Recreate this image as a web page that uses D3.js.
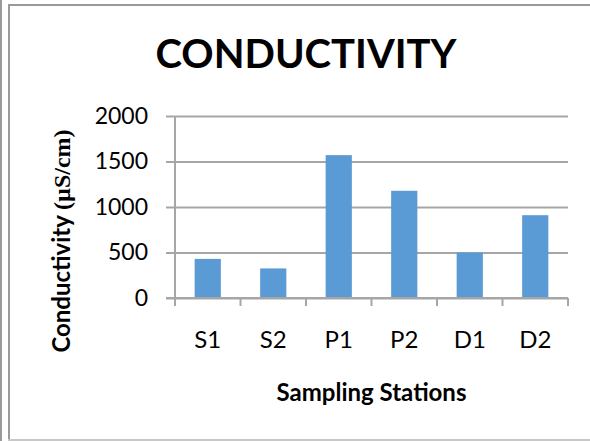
<!DOCTYPE html>
<html>
<head>
<meta charset="utf-8">
<script src="https://cdn.jsdelivr.net/npm/d3@7"></script>
<style>
  body { margin: 0; background: #fff; }
  svg { display: block; }
</style>
</head>
<body>
<svg id="chart" width="590" height="441"></svg>
<script>
// data
const stations = ['S1', 'S2', 'P1', 'P2', 'D1', 'D2']
const conductivity = [430, 325, 1570, 1178, 500, 910]
const yTicks = [0, 500, 1000, 1500, 2000]

const svg = d3.select('#chart')
const W = 590
const H = 441
const margin = { top: 116, right: 22, bottom: 143, left: 175 }
const innerW = W - margin.left - margin.right
const innerH = H - margin.top - margin.bottom
const sans = 'Lato, "Open Sans", sans-serif'

// frame lines
svg.append('rect').attr('x', 0).attr('y', 0).attr('width', 2).attr('height', H).attr('fill', '#9a9a9a')
svg.append('rect').attr('x', 8).attr('y', 4).attr('width', 2).attr('height', H - 4).attr('fill', '#9a9a9a')
svg.append('rect').attr('x', 8).attr('y', 4).attr('width', W - 8).attr('height', 2).attr('fill', '#9a9a9a')
svg.append('rect').attr('x', 8).attr('y', 439).attr('width', W - 8).attr('height', 2).attr('fill', '#c8c8c8')

const g = svg.append('g').attr('transform', `translate(${margin.left},${margin.top})`)

const x = d3.scaleBand().domain(stations).range([0, innerW]).paddingInner(0.6).paddingOuter(0.3)
const xCat = d3.scaleBand().domain(stations).range([0, innerW])
const y = d3.scaleLinear().domain([0, 2000]).range([innerH, 0])

// gridlines + y axis
const yAxis = g.append('g')
	.call(d3.axisLeft(y).tickValues(yTicks).tickSize(9).tickPadding(18).tickFormat(d3.format('d')))
yAxis.select('.domain').remove()
yAxis.selectAll('.tick line').attr('stroke', '#a6a6a6').attr('stroke-width', 2)
	.attr('x2', innerW).attr('x1', -9)
yAxis.selectAll('.tick text')
	.attr('font-family', sans)
	.attr('font-size', 23)
	.attr('fill', '#000')

// bars
g.selectAll('.bar')
	.data(conductivity)
	.enter()
	.append('rect')
	.attr('class', 'bar')
	.attr('x', (d, i) => x(stations[i]))
	.attr('width', x.bandwidth())
	.attr('y', (d) => y(d))
	.attr('height', (d) => innerH - y(d))
	.attr('fill', '#5b9bd5')

// y axis line
g.append('line').attr('x1', 0).attr('x2', 0).attr('y1', 0).attr('y2', innerH)
	.attr('stroke', '#a6a6a6').attr('stroke-width', 2)

// x axis with category boundary ticks
g.append('line').attr('x1', -9).attr('x2', innerW).attr('y1', innerH).attr('y2', innerH)
	.attr('stroke', '#a6a6a6').attr('stroke-width', 2)
g.selectAll('.xtick')
	.data(stations.concat(['end']))
	.enter()
	.append('line')
	.attr('x1', (d, i) => i * xCat.step())
	.attr('x2', (d, i) => i * xCat.step())
	.attr('y1', innerH)
	.attr('y2', innerH + 8)
	.attr('stroke', '#a6a6a6').attr('stroke-width', 2)

g.selectAll('.xlabel')
	.data(stations)
	.enter()
	.append('text')
	.attr('x', (d) => xCat(d) + xCat.bandwidth() / 2)
	.attr('y', innerH + 50)
	.attr('text-anchor', 'middle')
	.attr('font-family', sans)
	.attr('font-size', 24)
	.attr('fill', '#000')
	.text((d) => d)

// title
svg.append('text')
	.attr('x', 306)
	.attr('y', 68)
	.attr('text-anchor', 'middle')
	.attr('font-family', sans)
	.attr('font-weight', 'bold')
	.attr('font-size', 40)
	.attr('fill', '#000')
	.text('CONDUCTIVITY')

// x axis title
svg.append('text')
	.attr('x', margin.left + innerW / 2)
	.attr('y', 401)
	.attr('text-anchor', 'middle')
	.attr('font-family', sans)
	.attr('font-weight', 'bold')
	.attr('font-size', 24)
	.attr('fill', '#000')
	.text('Sampling Stations')

// y axis title
const yTitle = svg.append('text')
	.attr('transform', 'translate(70,241) rotate(-90)')
	.attr('text-anchor', 'middle')
	.attr('font-weight', 'bold')
	.attr('font-size', 24)
	.attr('fill', '#000')
yTitle.append('tspan').attr('font-family', sans).text('Conductivity ')
yTitle.append('tspan').attr('font-family', '"Liberation Serif", serif').text('(µS/cm)')
</script>
</body>
</html>
